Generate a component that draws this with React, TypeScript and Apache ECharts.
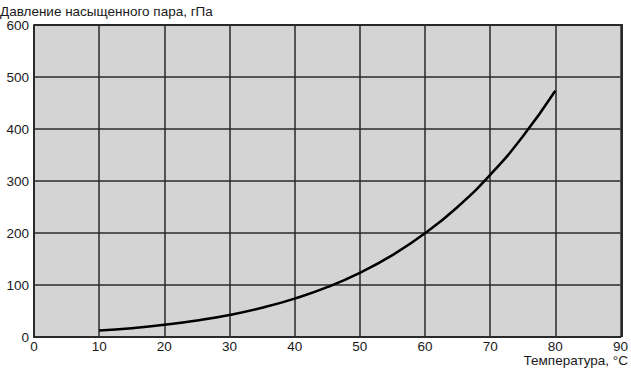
import React, { useEffect, useRef } from "react";
import * as echarts from "echarts";

const temperatures = [10, 15, 20, 25, 30, 35, 40, 45, 50, 55, 60, 65, 70, 75, 80];
const pressures = [12.3, 17.0, 23.4, 31.7, 42.4, 56.2, 73.8, 95.8, 123.4, 157.4, 199.3, 250.1, 311.8, 385.6, 473.6];
const yTitle = "Давление насыщенного пара, гПа";
const xTitle = "Температура, °C";

export default function App() {
  const ref = useRef<HTMLDivElement>(null);
  useEffect(() => {
    if (!ref.current) return;
    const chart = echarts.init(ref.current, undefined, { renderer: "svg" });
    const font = "'Liberation Sans', Arial, sans-serif";
    chart.setOption({
      animation: false,
      grid: { left: 34, right: 9, top: 25, bottom: 31, backgroundColor: "#d4d4d4", show: true, borderWidth: 0 },
      xAxis: {
        type: "value",
        min: 0,
        max: 90,
        interval: 10,
        axisLine: { show: true, lineStyle: { color: "#2a2a2a", width: 2 } },
        axisTick: { show: false },
        axisLabel: { color: "#1a1a1a", fontSize: 13.5, fontFamily: font, margin: 2 },
        splitLine: { show: true, lineStyle: { color: "#2a2a2a", width: 1.5 } },
      },
      yAxis: {
        type: "value",
        min: 0,
        max: 600,
        interval: 100,
        axisLine: { show: true, lineStyle: { color: "#2a2a2a", width: 2 } },
        axisTick: { show: false },
        axisLabel: { color: "#1a1a1a", fontSize: 13.5, fontFamily: font, margin: 5 },
        splitLine: { show: true, lineStyle: { color: "#2a2a2a", width: 1.5 } },
      },
      graphic: [
        { type: "text", left: 0, top: 4, style: { text: yTitle, fill: "#1a1a1a", font: `13.5px ${font}` } },
        { type: "text", right: 3, top: 353, style: { text: xTitle, fill: "#1a1a1a", font: `13.5px ${font}` } },
        { type: "rect", shape: { x: 621, y: 25, width: 2, height: 312 }, style: { fill: "#2a2a2a" } },
        { type: "rect", shape: { x: 34, y: 24, width: 589, height: 2 }, style: { fill: "#2a2a2a" } },
      ],
      series: [
        {
          type: "line",
          data: temperatures.map((t, i) => [t, pressures[i]]),
          smooth: true,
          showSymbol: false,
          lineStyle: { color: "#000", width: 2.5 },
        },
      ],
    });
    return () => chart.dispose();
  }, []);
  return <div ref={ref} style={{ width: 631, height: 368, position: "absolute", left: 0, top: 0 }} />;
}
